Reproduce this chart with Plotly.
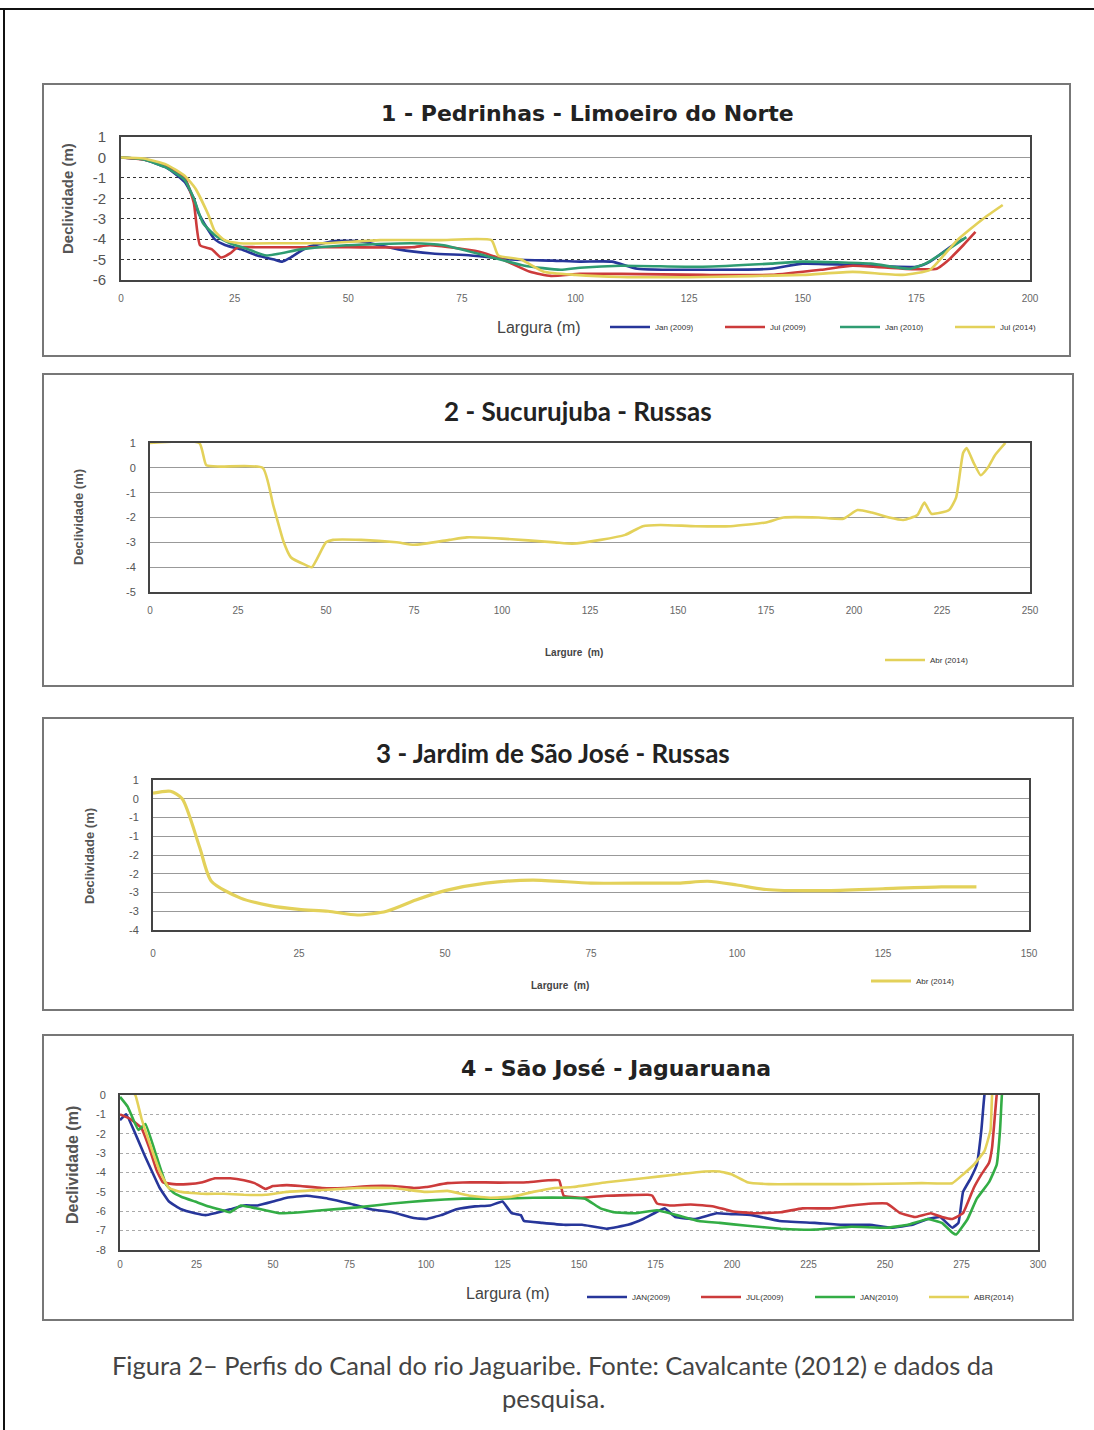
import plotly.graph_objects as go

# ---------------- DATA ----------------
# Panel 1 - Pedrinhas - Limoeiro do Norte
p1_jan2009_x = [0, 5, 10, 14, 16, 17, 18.5, 20.6, 23, 26.4, 30, 33.7, 35.5, 37.3, 41, 46.7, 52.5, 61, 68.5, 77, 86, 95, 101, 108, 113.6, 128, 143, 150, 165, 175, 178, 183, 185.3]
p1_jan2009_y = [0, -0.1, -0.5, -1.2, -2.0, -2.7, -3.3, -4.0, -4.3, -4.5, -4.8, -5.0, -5.1, -4.9, -4.4, -4.1, -4.1, -4.5, -4.7, -4.8, -5.0, -5.05, -5.1, -5.1, -5.45, -5.5, -5.45, -5.2, -5.3, -5.35, -5.1, -4.3, -4.0]
p1_jul2009_x = [0, 5, 10, 14, 16, 17.4, 20, 22, 24, 25.7, 30, 40, 50, 64, 68, 78.6, 84, 90, 94.6, 101, 110, 128, 143, 154, 161, 172, 179.5, 181.7, 185.3, 188]
p1_jul2009_y = [0, -0.1, -0.4, -1.0, -2.2, -4.3, -4.5, -4.9, -4.7, -4.4, -4.4, -4.4, -4.4, -4.4, -4.3, -4.6, -5.0, -5.6, -5.8, -5.7, -5.7, -5.75, -5.75, -5.5, -5.3, -5.45, -5.45, -5.1, -4.3, -3.65]
p1_jan2010_x = [0, 5, 10, 14, 16, 18, 20.6, 24, 28, 32, 39.5, 49.6, 64, 71, 80, 88.8, 96.7, 101, 110, 128, 143, 150, 165, 173.6, 177, 183, 186]
p1_jan2010_y = [0, -0.1, -0.5, -1.1, -2.0, -3.2, -3.8, -4.2, -4.5, -4.8, -4.5, -4.3, -4.2, -4.3, -4.8, -5.3, -5.5, -5.4, -5.3, -5.35, -5.2, -5.1, -5.2, -5.45, -5.2, -4.35, -3.9]
p1_jul2014_x = [0, 5, 10, 14, 16.3, 19.2, 20.6, 22.8, 26, 35, 45, 57, 70, 81.5, 83, 88, 93, 100, 110, 128, 150, 161, 172, 178, 181, 184, 189.7, 194]
p1_jul2014_y = [0, -0.05, -0.35, -0.9, -1.5, -2.8, -3.6, -4.05, -4.2, -4.2, -4.2, -4.05, -4.05, -4.05, -4.8, -5.0, -5.6, -5.75, -5.85, -5.85, -5.75, -5.6, -5.75, -5.5, -4.8, -4.05, -3.0, -2.33]
p1_ytickvals = [1, 0, -1, -2, -3, -4, -5, -6]
p1_yticktext = ["1", "0", "-1", "-2", "-3", "-4", "-5", "-6"]

# Panel 2 - Sucurujuba - Russas
p2_abr2014_x = [0, 14, 16, 20, 32, 35, 38, 40, 44, 46, 50, 52, 60, 70, 75, 85, 90, 100, 115, 120, 128, 135, 140, 145, 155, 165, 175, 180, 190, 197, 201, 205, 210, 214, 218, 220, 222, 227, 229, 231, 232, 234, 236, 238, 240, 243]
p2_abr2014_y = [1.0, 1.0, 0.1, 0.05, 0.0, -1.5, -3.0, -3.6, -3.9, -4.0, -3.0, -2.9, -2.9, -3.0, -3.1, -2.9, -2.8, -2.85, -3.0, -3.05, -2.9, -2.7, -2.35, -2.3, -2.35, -2.35, -2.2, -2.0, -2.0, -2.05, -1.7, -1.8, -2.0, -2.1, -1.9, -1.4, -1.85, -1.7, -1.2, 0.6, 0.8, 0.2, -0.3, 0.0, 0.5, 1.0]
p2_ytickvals = [1, 0, -1, -2, -3, -4, -5]
p2_yticktext = ["1", "0", "-1", "-2", "-3", "-4", "-5"]

# Panel 3 - Jardim de Sao Jose - Russas
p3_abr2014_x = [0, 3, 5, 8, 10, 15, 20, 25, 30, 35, 40, 45, 50, 57, 65, 75, 85, 90, 95, 100, 105, 115, 125, 135, 141]
p3_abr2014_y = [0.15, 0.2, 0.0, -1.3, -2.2, -2.65, -2.85, -2.95, -3.0, -3.1, -3.0, -2.7, -2.45, -2.25, -2.17, -2.25, -2.25, -2.25, -2.2, -2.3, -2.42, -2.45, -2.4, -2.35, -2.35]
p3_ytickvals = [0.5, 0, -0.5, -1, -1.5, -2, -2.5, -3, -3.5]
p3_yticktext = ["1", "0", "-1", "-1", "-2", "-2", "-3", "-3", "-4"]

# Panel 4 - Sao Jose - Jaguaruana
p4_jan2009_x = [0, 2, 8, 13, 16, 20, 24.5, 28, 31, 36, 40.5, 45, 50, 54.5, 61, 68, 75, 82, 89, 96, 100, 105, 110, 116, 121, 125, 128, 131, 132, 138, 145, 151, 159, 166, 171, 178, 181.5, 188, 195, 200, 206.5, 215.5, 227, 236, 245, 252, 259, 264, 268, 272, 274, 275.5, 278, 280, 281.5, 282.5, 284]
p4_jan2009_y = [-1.3, -1.0, -3.1, -4.8, -5.5, -5.9, -6.1, -6.2, -6.1, -5.9, -5.7, -5.7, -5.5, -5.3, -5.2, -5.35, -5.6, -5.9, -6.05, -6.35, -6.4, -6.2, -5.9, -5.75, -5.7, -5.5, -6.1, -6.2, -6.5, -6.6, -6.7, -6.7, -6.9, -6.7, -6.4, -5.85, -6.3, -6.4, -6.1, -6.15, -6.2, -6.5, -6.6, -6.7, -6.7, -6.85, -6.7, -6.4, -6.3, -6.85, -6.6, -5.0, -4.3, -3.6, -1.8, 0.0, 1.0]
p4_jul2009_x = [0, 3, 7, 9.5, 12, 14, 17.5, 22, 27, 31, 36, 40.5, 44, 47.5, 50, 54.5, 59, 66, 73, 82, 89, 96, 100, 107, 114.5, 124, 133, 140, 143.5, 145, 150.5, 159, 172.5, 174, 175.5, 180, 186.5, 194, 200, 207, 216, 223, 232, 239, 246, 250.6, 255, 259.7, 265, 268.6, 272, 275.5, 279, 281.5, 284, 285, 286.5, 287.5]
p4_jul2009_y = [-1.0, -1.2, -1.7, -2.7, -3.9, -4.5, -4.6, -4.6, -4.5, -4.3, -4.3, -4.4, -4.55, -4.85, -4.7, -4.65, -4.7, -4.8, -4.8, -4.7, -4.7, -4.8, -4.75, -4.55, -4.5, -4.52, -4.5, -4.4, -4.4, -5.2, -5.3, -5.2, -5.15, -5.2, -5.6, -5.7, -5.65, -5.75, -6.0, -6.1, -6.05, -5.85, -5.85, -5.7, -5.6, -5.6, -6.1, -6.3, -6.1, -6.3, -6.4, -6.1, -4.8, -4.1, -3.5, -2.7, 0.0, 1.0]
p4_jan2010_x = [0, 2.5, 6, 8.3, 12, 15, 17.5, 20, 24.5, 29, 33.7, 36, 39.5, 43, 47.5, 52, 59, 66, 77.5, 89, 100, 112, 124, 135, 147, 152, 157, 161.5, 168.5, 175.5, 182, 189, 196, 205, 216, 227, 239, 250.6, 257.5, 264, 268.6, 272, 273.3, 277, 280, 284, 286.5, 287.6, 288.2, 289]
p4_jan2010_y = [-0.1, -0.6, -1.8, -1.5, -3.2, -4.6, -5.05, -5.25, -5.5, -5.75, -5.95, -6.05, -5.7, -5.8, -5.95, -6.1, -6.05, -5.95, -5.8, -5.6, -5.45, -5.35, -5.35, -5.3, -5.3, -5.35, -5.85, -6.05, -6.1, -5.95, -6.2, -6.5, -6.6, -6.75, -6.9, -6.95, -6.8, -6.85, -6.7, -6.4, -6.6, -7.1, -7.2, -6.4, -5.35, -4.5, -3.6, -1.8, 0.0, 1.0]
p4_abr2014_x = [0, 2.5, 5, 7, 9.5, 13, 16, 20, 27, 33.7, 40.5, 47.5, 54.5, 66, 77.5, 89, 100, 107, 114.5, 121, 128, 135, 142, 148, 159, 171, 182, 191, 196, 200, 205, 212, 223, 239, 250.6, 262, 272, 275.5, 279, 282.5, 284.5, 285, 286]
p4_abr2014_y = [0.5, 0.3, 0.0, -1.2, -2.4, -3.95, -4.8, -5.0, -5.1, -5.1, -5.15, -5.15, -5.0, -4.9, -4.8, -4.8, -5.0, -4.95, -5.2, -5.3, -5.25, -5.0, -4.8, -4.75, -4.5, -4.3, -4.1, -3.95, -3.95, -4.1, -4.5, -4.6, -4.6, -4.6, -4.58, -4.55, -4.55, -4.1, -3.6, -2.9, -1.8, 0.0, 1.0]
p4_ytickvals = [0, -1, -2, -3, -4, -5, -6, -7, -8]
p4_yticktext = ["0", "-1", "-2", "-3", "-4", "-5", "-6", "-7", "-8"]

# Texts
titles = ["1 - Pedrinhas - Limoeiro do Norte", "2 - Sucurujuba - Russas",
          "3 - Jardim de São José - Russas", "4 - São José - Jaguaruana"]
y_title = "Declividade (m)"
x_titles = ["Largura (m)", "Largure  (m)", "Largure  (m)", "Largura (m)"]
p1_names = ["Jan (2009)", "Jul (2009)", "Jan (2010)", "Jul (2014)"]
p4_names = ["JAN(2009)", "JUL(2009)", "JAN(2010)", "ABR(2014)"]
p23_name = "Abr (2014)"
caption1 = "Figura 2– Perfis do Canal do rio Jaguaribe. Fonte: Cavalcante (2012) e dados da"
caption2 = "pesquisa."

# ---------------- STYLE ----------------
W, H = 1094, 1430
def px(x): return x / W
def py(y): return 1 - y / H

BLUE = "#27369a"
RED = "#cc3b3b"
GREEN1 = "#2f9c72"
GREEN4 = "#33ad45"
YEL = "#e3d15a"
LW = 2.6

fig = go.Figure()

# Panel 1
for xs, ys, c, n in [(p1_jan2009_x, p1_jan2009_y, BLUE, p1_names[0]),
                     (p1_jul2009_x, p1_jul2009_y, RED, p1_names[1]),
                     (p1_jan2010_x, p1_jan2010_y, GREEN1, p1_names[2]),
                     (p1_jul2014_x, p1_jul2014_y, YEL, p1_names[3])]:
    fig.add_trace(go.Scatter(x=xs, y=ys, name=n, mode="lines",
                             line=dict(color=c, width=LW, shape="spline", smoothing=0.5),
                             xaxis="x", yaxis="y", legend="legend"))
# Panel 2
fig.add_trace(go.Scatter(x=p2_abr2014_x, y=p2_abr2014_y, name=p23_name, mode="lines",
                         line=dict(color=YEL, width=LW, shape="spline", smoothing=0.5),
                         xaxis="x2", yaxis="y2", legend="legend2"))
# Panel 3
fig.add_trace(go.Scatter(x=p3_abr2014_x, y=p3_abr2014_y, name=p23_name, mode="lines",
                         line=dict(color=YEL, width=LW + 0.6, shape="spline", smoothing=0.7),
                         xaxis="x3", yaxis="y3", legend="legend3"))
# Panel 4
for xs, ys, c, n in [(p4_jan2009_x, p4_jan2009_y, BLUE, p4_names[0]),
                     (p4_jul2009_x, p4_jul2009_y, RED, p4_names[1]),
                     (p4_jan2010_x, p4_jan2010_y, GREEN4, p4_names[2]),
                     (p4_abr2014_x, p4_abr2014_y, YEL, p4_names[3])]:
    fig.add_trace(go.Scatter(x=xs, y=ys, name=n, mode="lines",
                             line=dict(color=c, width=LW, shape="spline", smoothing=0.3),
                             xaxis="x4", yaxis="y4", legend="legend4"))

tickfont = dict(family="Liberation Sans", size=10, color="#666")

def xax(dom, anchor, rng, standoff):
    return dict(domain=dom, anchor=anchor, range=rng, dtick=25, tick0=0,
                showgrid=False, zeroline=False, showline=True, mirror=True,
                linecolor="#444", linewidth=2, ticks="outside", ticklen=standoff,
                tickcolor="rgba(0,0,0,0)", tickfont=tickfont, fixedrange=True,
                automargin=False)

def yax(dom, anchor, rng, gridcolor, griddash, tfont, tv, tt, **kw):
    d = dict(domain=dom, anchor=anchor, range=rng, showgrid=True,
             gridcolor=gridcolor, griddash=griddash, gridwidth=1.3,
             zeroline=False, showline=True, mirror=True, linecolor="#444",
             linewidth=2, ticks="outside", ticklen=10, tickcolor="rgba(0,0,0,0)",
             tickfont=tfont, fixedrange=True, automargin=False,
             tickmode="array", tickvals=tv, ticktext=tt)
    d.update(kw)
    return d

layout = dict(
    width=W, height=H, margin=dict(l=0, r=0, t=0, b=0, autoexpand=False),
    paper_bgcolor="white", plot_bgcolor="white", showlegend=True,
    xaxis=xax([px(121), px(1030)], "y", [0, 200], 8),
    yaxis=yax([py(280), py(137)], "x", [-6, 1], "#333", "dot",
              dict(family="Liberation Sans", size=15, color="#555"), p1_ytickvals, p1_yticktext,
              zeroline=True, zerolinecolor="#999", zerolinewidth=1.3),
    xaxis2=xax([px(150), px(1030)], "y2", [0, 250], 8),
    yaxis2=yax([py(592), py(443)], "x2", [-5, 1], "#999", "solid",
               dict(family="Liberation Sans", size=11, color="#555"), p2_ytickvals, p2_yticktext),
    xaxis3=xax([px(153), px(1029)], "y3", [0, 150], 13),
    yaxis3=yax([py(930), py(780)], "x3", [-3.5, 0.5], "#999", "solid",
               dict(family="Liberation Sans", size=11, color="#555"), p3_ytickvals, p3_yticktext),
    xaxis4=xax([px(120), px(1038)], "y4", [0, 300], 4),
    yaxis4=yax([py(1250), py(1095)], "x4", [-8, 0], "#aaa", "dot",
               dict(family="Liberation Sans", size=11, color="#555"), p4_ytickvals, p4_yticktext),
)

legfont = dict(family="Liberation Sans", size=8, color="#333")
layout["legend"] = dict(orientation="h", x=px(605), y=py(327), xanchor="left", yanchor="middle",
                        font=legfont, entrywidth=60, entrywidthmode="pixels",
                        bgcolor="rgba(0,0,0,0)", itemwidth=40, tracegroupgap=0)
layout["legend2"] = dict(orientation="h", x=px(880), y=py(660), xanchor="left", yanchor="middle",
                         font=legfont, bgcolor="rgba(0,0,0,0)", itemwidth=40)
layout["legend3"] = dict(orientation="h", x=px(866), y=py(981), xanchor="left", yanchor="middle",
                         font=legfont, bgcolor="rgba(0,0,0,0)", itemwidth=40)
layout["legend4"] = dict(orientation="h", x=px(582), y=py(1297), xanchor="left", yanchor="middle",
                         font=legfont, entrywidth=59, entrywidthmode="pixels",
                         bgcolor="rgba(0,0,0,0)", itemwidth=40)

fig.update_layout(**layout)

# Frames / boxes
shapes = [
    dict(type="line", xref="paper", yref="paper", x0=0, x1=1, y0=py(9), y1=py(9),
         line=dict(color="#111", width=2)),
    dict(type="line", xref="paper", yref="paper", x0=px(4), x1=px(4), y0=py(9), y1=0,
         line=dict(color="#111", width=2)),
]
for (x0, y0, x1, y1) in [(43, 84, 1070, 356), (43, 374, 1073, 686),
                         (43, 718, 1073, 1010), (43, 1035, 1073, 1320)]:
    shapes.append(dict(type="rect", xref="paper", yref="paper",
                       x0=px(x0), x1=px(x1), y0=py(y1), y1=py(y0),
                       line=dict(color="#777", width=2)))
fig.update_layout(shapes=shapes)

def note(text, x, y, font, angle=0):
    return dict(text=text, x=px(x), y=py(y), xref="paper", yref="paper", showarrow=False,
                xanchor="center", yanchor="middle", textangle=angle, font=font)

ann = []
# titles
ann.append(note("<b>" + titles[0] + "</b>", 587, 113, dict(family="DejaVu Sans", size=22, color="#222")))
ann.append(note("<b>" + titles[1] + "</b>", 578, 411, dict(family="Lato", size=26, color="#222")))
ann.append(note("<b>" + titles[2] + "</b>", 553, 753, dict(family="Lato", size=26, color="#222")))
ann.append(note("<b>" + titles[3] + "</b>", 616, 1068, dict(family="DejaVu Sans", size=22, color="#222")))
# y titles
for (xx, yy, sz) in [(67, 199, 15), (78, 517, 13), (89, 856, 13), (72, 1165, 16)]:
    ann.append(note("<b>" + y_title + "</b>", xx, yy,
                    dict(family="Liberation Sans", size=sz, color="#555"), angle=-90))
# x titles
for (t, xx, yy, sz, b) in [(x_titles[0], 539, 327, 16, False), (x_titles[1], 574, 652, 10, True),
                           (x_titles[2], 560, 985, 10, True), (x_titles[3], 508, 1293, 16, False)]:
    ann.append(note(("<b>%s</b>" % t) if b else t, xx, yy,
                    dict(family="Liberation Sans", size=sz, color="#444")))
# caption
ann.append(note(caption1, 553, 1365, dict(family="Lato", size=25.5, color="#444")))
ann.append(note(caption2, 553, 1398, dict(family="Lato", size=25.5, color="#444")))
fig.update_layout(annotations=ann)

fig.write_html("out.html", config={"displayModeBar": False},
               post_script="document.body.style.margin='0';document.body.style.overflow='hidden';")
